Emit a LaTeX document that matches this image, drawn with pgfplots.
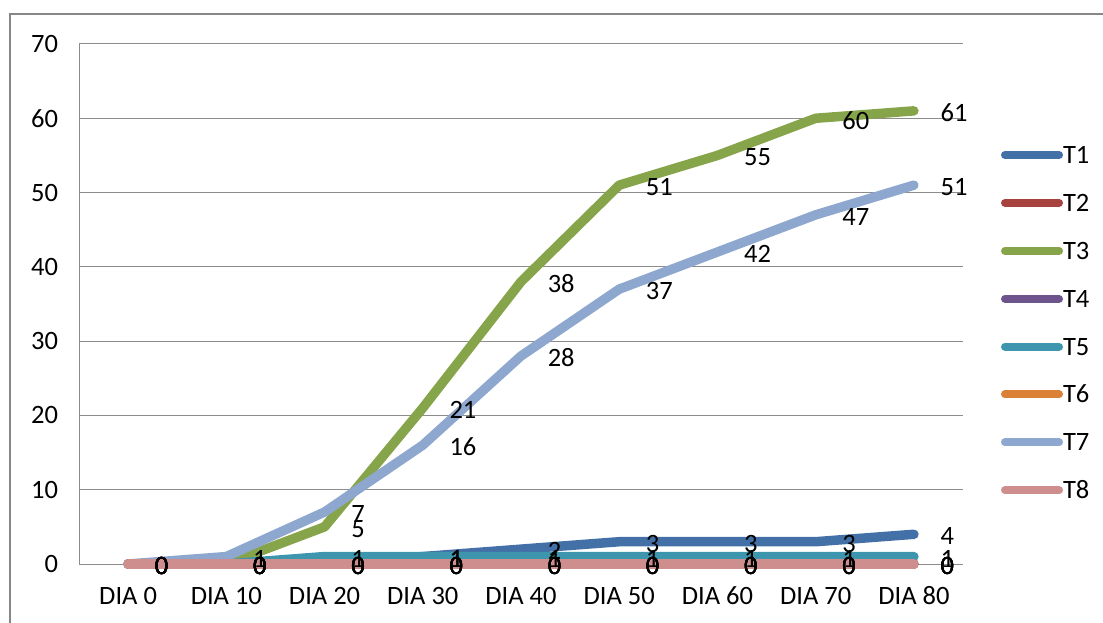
\documentclass[border=0pt]{standalone}
\usepackage{pgfplots}
\pgfplotsset{compat=1.18}
\usepackage{pgfplotstable}
\usepackage{fontspec}
\setmainfont{Carlito}

\definecolor{cT1}{HTML}{4470A8}
\definecolor{cT2}{HTML}{A8423F}
\definecolor{cT3}{HTML}{86A44A}
\definecolor{cT4}{HTML}{6E548D}
\definecolor{cT5}{HTML}{3D96AE}
\definecolor{cT6}{HTML}{DA8137}
\definecolor{cT7}{HTML}{8EA7CE}
\definecolor{cT8}{HTML}{CE8E8D}
\definecolor{gridgray}{HTML}{8C8C8C}
\definecolor{framegray}{HTML}{878787}

% day index (0 = DIA 0, ..., 8 = DIA 80) and count per treatment
\pgfplotstableread{
x T1 T2 T3 T4 T5 T6 T7 T8
0 0  0  0  0  0  0  0  0
1 0  0  0  0  0  0  1  0
2 0  0  5  0  1  0  7  0
3 1  0  21 0  1  0  16 0
4 2  0  38 0  1  0  28 0
5 3  0  51 0  1  0  37 0
6 3  0  55 0  1  0  42 0
7 3  0  60 0  1  0  47 0
8 4  0  61 0  1  0  51 0
}\datatable

\newcommand{\chartfont}{\fontsize{26.5bp}{30bp}\selectfont}

\begin{document}
\begin{tikzpicture}
\useasboundingbox (0,0) rectangle (1103bp,623bp);
% outer chart frame
\draw[framegray, line width=2bp] (10bp,0bp) -- (10bp,609bp) -- (1103bp,609bp);

\begin{axis}[
  at={(79bp,59bp)}, anchor=south west,
  scale only axis, width=884bp, height=520bp,
  xmin=-0.5, xmax=8.5, ymin=0, ymax=70,
  xtick={0,...,8},
  xticklabels={DIA 0,DIA 10,DIA 20,DIA 30,DIA 40,DIA 50,DIA 60,DIA 70,DIA 80},
  ytick={0,10,...,70},
  axis x line*=bottom, axis y line*=left,
  axis line style={gridgray, line width=1bp, -},
  ymajorgrids, grid style={gridgray, line width=1bp},
  major tick length=0pt,
  /pgf/number format/assume math mode=true,
  ticklabel style={font=\chartfont, text=black},
  yticklabel style={xshift=-17.5bp},
  xticklabel style={yshift=-19.5bp, text height=17bp, text depth=0bp},
  clip=false,
  every axis plot/.append style={line width=9.5bp, line cap=round, line join=round, mark=none},
  legend image code/.code={\draw[#1, line width=8bp] (0bp,0bp) -- (54bp,0bp);},
  legend style={draw=none, fill=none, inner sep=0pt, outer sep=0pt,
    at={(1.043,0.8029)}, anchor=north west,
    row sep=30.9bp, column sep=0bp,
    nodes={font=\chartfont, inner sep=0pt, text height=17bp, text depth=0bp}},
  legend cell align=left,
]
\addplot[cT1] table[x=x, y=T1] {\datatable};
\addplot[cT2] table[x=x, y=T2] {\datatable};
\addplot[cT3] table[x=x, y=T3] {\datatable};
\addplot[cT4] table[x=x, y=T4] {\datatable};
\addplot[cT5] table[x=x, y=T5] {\datatable};
\addplot[cT6] table[x=x, y=T6] {\datatable};
\addplot[cT7] table[x=x, y=T7] {\datatable};
\addplot[cT8] table[x=x, y=T8] {\datatable};
\legend{T1,T2,T3,T4,T5,T6,T7,T8}

% value labels, drawn after all lines so they sit on top
\pgfplotsset{every node near coord/.append style={anchor=west, inner sep=0pt,
  xshift=22bp, yshift=-2bp, font=\chartfont, text=black}}
\foreach \s in {T1,T2,T3,T4,T5,T6,T7,T8}{
  \addplot[draw=none, nodes near coords, forget plot] table[x=x, y=\s] {\datatable};
}
\end{axis}
\end{tikzpicture}
\end{document}
